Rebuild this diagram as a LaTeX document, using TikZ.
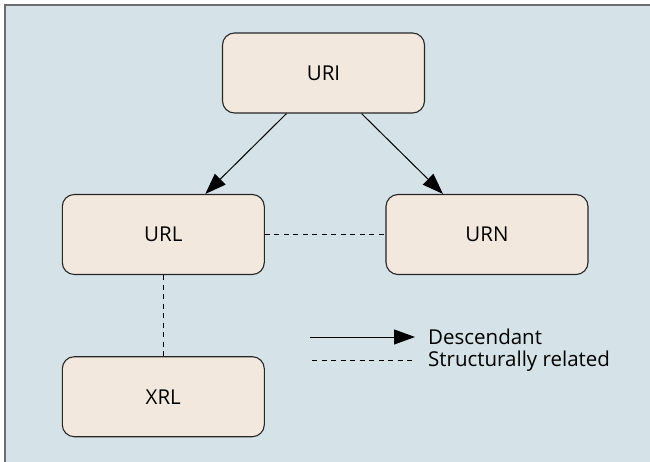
\documentclass[tikz,border=0pt]{standalone}
\usepackage{fontspec}
\setmainfont{Open Sans}
\usetikzlibrary{arrows.meta}
\definecolor{panel}{HTML}{D5E3E8}
\definecolor{boxfill}{HTML}{F2E8DE}
\definecolor{framegray}{HTML}{6E6E6E}
\begin{document}
\begin{tikzpicture}[x=1pt,y=-1pt,
  entity/.style={draw=black!85, line width=1.1pt, fill=boxfill, rounded corners=12pt,
    minimum width=202pt, minimum height=80pt, inner sep=0pt,
    font=\fontsize{20.5}{24}\selectfont},
  legendtext/.style={anchor=base west, inner sep=0pt, font=\fontsize{20.5}{24}\selectfont},
  descends/.style={-{Triangle[length=21pt,width=15pt]}, line width=1pt},
  related/.style={dash pattern=on 5pt off 4.5pt, line width=1pt}]
\useasboundingbox (0,0) rectangle (650,462);
% panel with its frame on the top and left edges
\fill[white] (0,0) rectangle (650,462);
\fill[panel] (5,5) rectangle (655,467);
\draw[framegray, line width=2pt] (5,467) -- (5,5) -- (655,5);

% identifier boxes
\node[entity] (uri) at (323.5,73) {URI};
\node[entity] (url) at (163.3,234.5) {URL};
\node[entity] (urn) at (487,234.5) {URN};
\node[entity] (xrl) at (163.3,396.7) {XRL};

% descent and structural relations
\draw[descends] ([xshift=-37pt]uri.south) -- ([xshift=42pt]url.north);
\draw[descends] ([xshift=38pt]uri.south) -- ([xshift=-44pt]urn.north);
\draw[related] (url.east) -- (urn.west);
\draw[related] (url.south) -- (xrl.north);

% legend
\coordinate (la) at (310,337);
\coordinate (lb) at (415,337);
\coordinate (lc) at (312,360);
\coordinate (ld) at (414,360);
\draw[descends] (la) -- (lb);
\draw[related] (lc) -- (ld);
\node[legendtext] (ldesc) at (428,344) {Descendant};
\node[legendtext] (lrel) at (428,366) {Structurally related};
\end{tikzpicture}
\end{document}
